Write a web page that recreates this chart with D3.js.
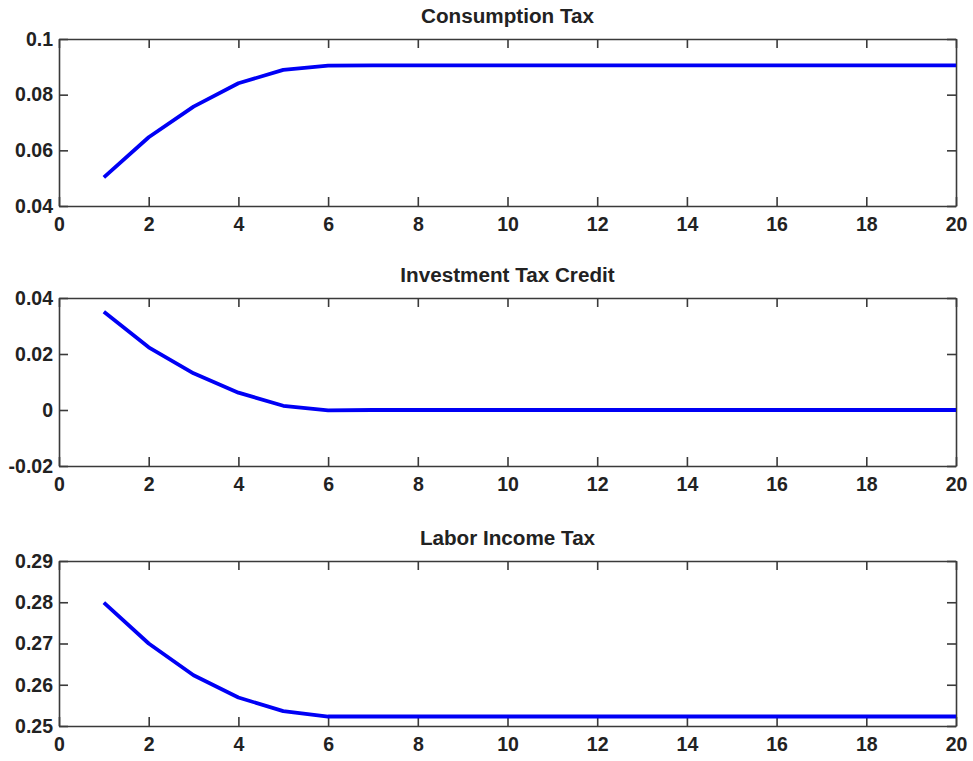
<!DOCTYPE html>
<html><head><meta charset="utf-8">
<script src="https://cdn.jsdelivr.net/npm/d3@7"></script>
<style>
body{margin:0;background:#fff;}
text{font-family:"Liberation Sans",Arial,sans-serif;font-weight:bold;fill:#222;}
</style></head><body>
<svg id="c" width="973" height="761"></svg>
<script>
const periods = d3.range(1, 21);
const titles = ["Consumption Tax", "Investment Tax Credit", "Labor Income Tax"];
const consumptionTax = [0.0503,0.0647,0.0757,0.0841,0.0889,0.0904,0.0905,0.0905,0.0905,0.0905,0.0905,0.0905,0.0905,0.0905,0.0905,0.0905,0.0905,0.0905,0.0905,0.0905];
const investmentTaxCredit = [0.0351,0.0224,0.0131,0.0062,0.0015,-0.0001,0,0,0,0,0,0,0,0,0,0,0,0,0,0];
const laborIncomeTax = [0.2799,0.2700,0.2623,0.2569,0.2536,0.2523,0.2523,0.2523,0.2523,0.2523,0.2523,0.2523,0.2523,0.2523,0.2523,0.2523,0.2523,0.2523,0.2523,0.2523];
const xTicks = [0,2,4,6,8,10,12,14,16,18,20];
const yTicks1 = [0.04,0.06,0.08,0.1];
const yTicks2 = [-0.02,0,0.02,0.04];
const yTicks3 = [0.25,0.26,0.27,0.28,0.29];
const yDomains = [[0.04,0.1],[-0.02,0.04],[0.25,0.29]];

const series = [consumptionTax, investmentTaxCredit, laborIncomeTax];
const yTickSets = [yTicks1, yTicks2, yTicks3];
const panels = [{top:39,bottom:206},{top:298,bottom:466},{top:561,bottom:726}];
const left = 59, right = 956;
const svg = d3.select("#c");
const x = d3.scaleLinear().domain([0,20]).range([left,right]);
const axisColor = "#3a3a3a";
const fmt = v => String(+v.toFixed(4));
const fs = 19.5;

panels.forEach((p,i)=>{
  const y = d3.scaleLinear().domain(yDomains[i]).range([p.bottom,p.top]);
  const g = svg.append("g");
  const tl = 9;
  const ax = g.append("g").attr("transform",`translate(0,${p.bottom})`)
    .call(d3.axisBottom(x).tickValues(xTicks).tickSizeInner(-tl).tickSizeOuter(0).tickPadding(tl+2).tickFormat(d=>d));
  const axT = g.append("g").attr("transform",`translate(0,${p.top})`)
    .call(d3.axisTop(x).tickValues(xTicks).tickSizeInner(-tl).tickSizeOuter(0).tickFormat(""));
  const ay = g.append("g").attr("transform",`translate(${left},0)`)
    .call(d3.axisLeft(y).tickValues(yTickSets[i]).tickSizeInner(-tl).tickSizeOuter(0).tickPadding(6).tickFormat(fmt));
  const ayR = g.append("g").attr("transform",`translate(${right},0)`)
    .call(d3.axisRight(y).tickValues(yTickSets[i]).tickSizeInner(-tl).tickSizeOuter(0).tickFormat(""));
  [ax,axT,ay,ayR].forEach(a=>{
    a.selectAll("path.domain").attr("stroke",axisColor).attr("stroke-width",1.6);
    a.selectAll(".tick line").attr("stroke",axisColor).attr("stroke-width",1.6);
    a.selectAll("text").attr("font-size",fs).attr("font-family","'Liberation Sans',Arial,sans-serif").attr("font-weight","bold").attr("fill","#222");
  });
  ax.selectAll("text").attr("dy","0.72em");
  g.append("path").datum(series[i].map((v,k)=>[periods[k],v]))
    .attr("fill","none").attr("stroke","#0000f5").attr("stroke-width",3.8)
    .attr("stroke-linejoin","round")
    .attr("d", d3.line().x(d=>x(d[0])).y(d=>y(d[1])));
  g.append("text").attr("transform",`translate(${(left+right)/2},${p.top-16}) scale(1.06,1)`)
    .attr("text-anchor","middle").attr("font-size",fs).text(titles[i]);
});
</script>
</body></html>
